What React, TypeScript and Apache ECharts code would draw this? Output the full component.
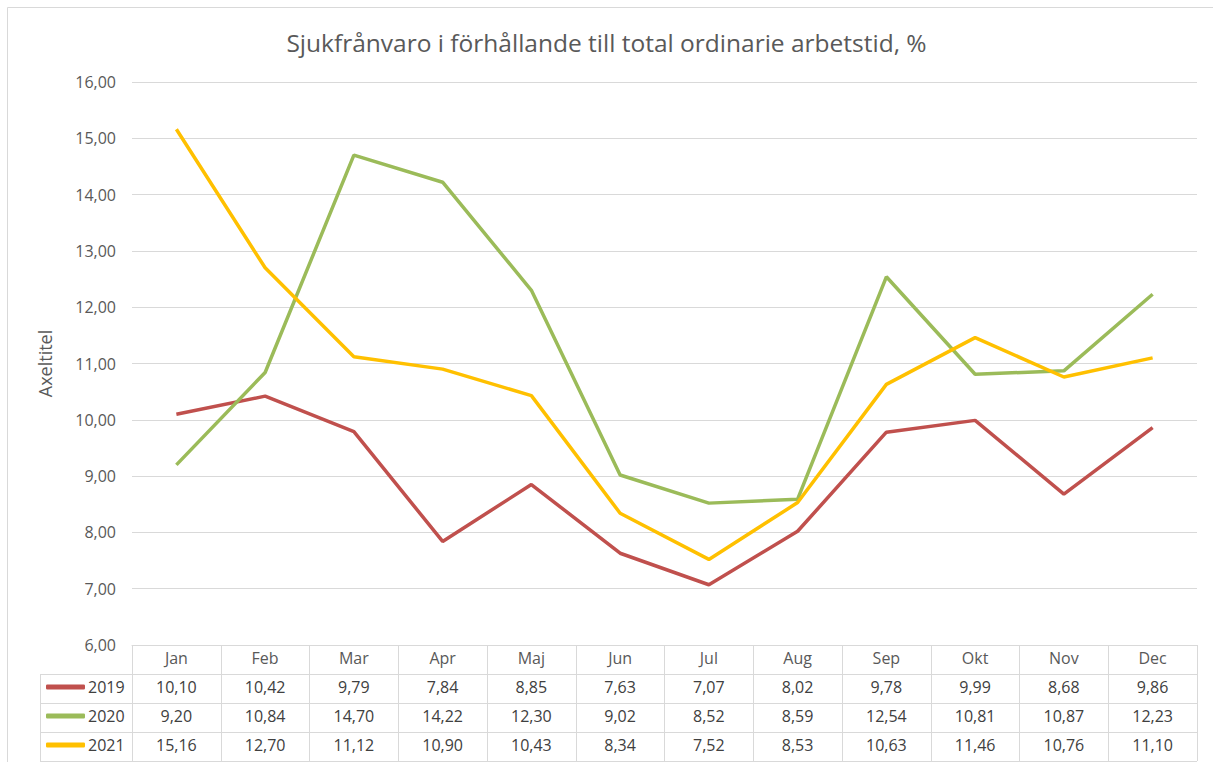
import React, { useEffect, useRef } from "react";
import * as echarts from "echarts";

const months = ["Jan", "Feb", "Mar", "Apr", "Maj", "Jun", "Jul", "Aug", "Sep", "Okt", "Nov", "Dec"];
const seriesNames = ["2019", "2020", "2021"];
const values2019 = [10.10, 10.42, 9.79, 7.84, 8.85, 7.63, 7.07, 8.02, 9.78, 9.99, 8.68, 9.86];
const values2020 = [9.20, 10.84, 14.70, 14.22, 12.30, 9.02, 8.52, 8.59, 12.54, 10.81, 10.87, 12.23];
const values2021 = [15.16, 12.70, 11.12, 10.90, 10.43, 8.34, 7.52, 8.53, 10.63, 11.46, 10.76, 11.10];
const colors = ["#c0504d", "#9bbb59", "#ffc000"];
const title = "Sjukfrånvaro i förhållande till total ordinarie arbetstid, %";
const yAxisTitle = "Axeltitel";

const fmt = (v: number) => v.toFixed(2).replace(".", ",");

export default function App() {
  const ref = useRef<HTMLDivElement>(null);
  useEffect(() => {
    document.body.style.margin = "0";
    const chart = echarts.init(ref.current!, undefined, { renderer: "svg" });
    const font = "'Open Sans', sans-serif";
    const all = [values2019, values2020, values2021];
    const gridLeft = 132;
    const gridRight = 1197;
    const rowH = 29;
    const axisY = 645;
    const legends = seriesNames.map((n, i) => ({
      data: [n],
      left: 46,
      top: axisY + rowH * (i + 1) + 5,
      icon: "roundRect",
      itemWidth: 39,
      itemHeight: 5,
      selectedMode: false,
      textStyle: { fontFamily: font, fontSize: 16, color: "#404040", padding: [0, 0, 0, -2] },
      padding: 0,
    }));
    const valueAxes = all.map((vals, i) => ({
      type: "category",
      gridIndex: 0,
      position: "bottom",
      offset: rowH * (i + 1),
      data: vals.map(fmt),
      boundaryGap: true,
      axisLine: { show: false },
      axisTick: { show: false },
      axisLabel: { interval: 0, margin: 5, fontFamily: font, fontSize: 16, color: "#404040" },
    }));
    const hLines = [1, 2, 3, 4].map((k) => ({
      type: "line",
      shape: { x1: 40, y1: axisY + rowH * k + 0.5, x2: gridRight, y2: axisY + rowH * k + 0.5 },
      style: { stroke: "#d9d9d9", lineWidth: 1 },
      silent: true,
    }));
    chart.setOption({
      animation: false,
      title: {
        text: title,
        left: "center",
        top: 25,
        textStyle: { fontFamily: font, fontSize: 24.5, fontWeight: "normal", color: "#595959" },
      },
      legend: legends,
      grid: { left: gridLeft, right: 1213 - gridRight, top: 82, bottom: 762 - axisY, containLabel: false },
      xAxis: [
        {
          type: "category",
          data: months,
          boundaryGap: true,
          axisLine: { show: true, lineStyle: { color: "#d9d9d9", width: 1 } },
          axisTick: { show: true, length: rowH * 4, lineStyle: { color: "#d9d9d9", width: 1 } },
          axisLabel: { interval: 0, margin: 5, fontFamily: font, fontSize: 16, color: "#595959" },
        },
        ...valueAxes,
      ],
      yAxis: {
        type: "value",
        min: 6,
        max: 16,
        interval: 1,
        name: yAxisTitle,
        nameLocation: "middle",
        nameGap: 78,
        nameTextStyle: { fontFamily: font, fontSize: 18, color: "#595959" },
        axisLine: { show: false },
        axisTick: { show: false },
        axisLabel: { margin: 16, fontFamily: font, fontSize: 16, color: "#595959", formatter: (v: number) => fmt(v) },
        splitLine: { lineStyle: { color: "#d9d9d9", width: 1 } },
      },
      series: all.map((vals, i) => ({
        name: seriesNames[i],
        type: "line",
        data: vals,
        showSymbol: false,
        symbol: "none",
        lineStyle: { color: colors[i], width: 3.5 },
        itemStyle: { color: colors[i] },
        color: colors[i],
      })),
      graphic: [
        {
          type: "rect",
          shape: { x: 7.5, y: 7.5, width: 1220, height: 770 },
          style: { fill: "none", stroke: "#d9d9d9", lineWidth: 1 },
          silent: true,
          z: -10,
        },
        ...hLines,
        {
          type: "line",
          shape: { x1: 40.5, y1: axisY + rowH, x2: 40.5, y2: axisY + rowH * 4 },
          style: { stroke: "#d9d9d9", lineWidth: 1 },
          silent: true,
        },
      ],
    });
    return () => chart.dispose();
  }, []);
  return <div ref={ref} style={{ width: 1213, height: 762 }} />;
}
